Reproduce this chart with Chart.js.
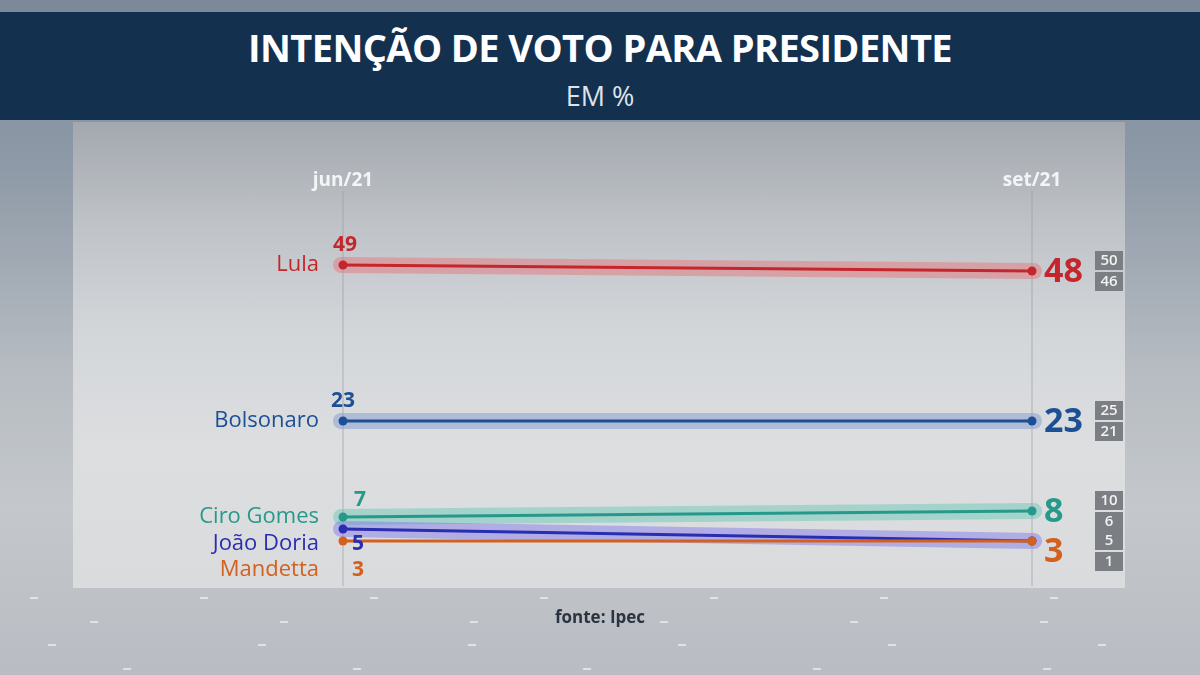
<!DOCTYPE html>
<html>
<head>
<meta charset="utf-8">
<script src="https://cdn.jsdelivr.net/npm/chart.js@4.4.1/dist/chart.umd.min.js"></script>
<style>
  html, body { margin: 0; padding: 0; }
  body {
    width: 1200px; height: 675px; overflow: hidden; position: relative;
    background: linear-gradient(to bottom, #7b8999 0%, #8e9aa7 25%, #b7bcc2 55%, #c4c8cc 75%, #b9bdc3 100%);
    font-family: "Open Sans", "Noto Sans", sans-serif;
  }
  #titlebar {
    position: absolute; left: 0; top: 12px; width: 1200px; height: 108px;
    background: #14304f; text-align: center; color: #fff;
  }
  #titlebar h1 {
    margin: 0; padding-top: 15px; font-size: 38px; font-weight: 700; line-height: 40px;
    font-family: "Open Sans", sans-serif; letter-spacing: -0.6px;
  }
  #titlebar h2 {
    margin: 0; padding-top: 14px; font-size: 27px; font-weight: 400; line-height: 30px; color: #dfe4ea;
  }
  #panel {
    position: absolute; left: 73px; top: 122px; width: 1052px; height: 466px;
    background: linear-gradient(to bottom, #a3a8ae 0%, #bfc3c8 22%, #d3d6d9 45%, #dcdee0 70%, #d9dbdd 100%);
  }
  #fonte {
    position: absolute; left: 0; width: 1200px; top: 605px; text-align: center; z-index: 2;
    font-size: 17px; font-weight: 700; color: #2b3440;
  }
  .dash { position: absolute; width: 8px; height: 2px; background: rgba(255,255,255,0.55); }
  #chart-wrap { position: absolute; left: 0; top: 0; width: 1200px; height: 675px; }
</style>
</head>
<body>
<div id="titlebar">
  <h1>INTENÇÃO DE VOTO PARA PRESIDENTE</h1>
  <h2>EM %</h2>
</div>
<div id="panel"></div>
<div id="fonte">fonte: Ipec</div>
<div id="chart-wrap"><canvas id="vote-chart" width="1200" height="675"></canvas></div>

<script>
// survey dates (x categories)
const periods = ["jun/21", "set/21"];

// candidates and their values (%)
const candidates = ["Lula", "Bolsonaro", "Ciro Gomes", "João Doria", "Mandetta"];
const lulaValues = [49, 48];
const bolsonaroValues = [23, 23];
const ciroValues = [7, 8];
const doriaValues = [5, 3];
const mandettaValues = [3, 3];

// margin of error shown in the little grey boxes on the right
const marginHigh = [50, 25, 10, 5];
const marginLow = [46, 21, 6, 1];

// colours
const lineColors = ["#c4262b", "#1c4f94", "#27998a", "#2a2db0", "#d3601e"];
const glowColors = ["rgba(232,110,115,0.45)", "rgba(110,140,205,0.40)", "rgba(95,200,180,0.45)", "rgba(125,115,235,0.45)", null];

const allValues = [lulaValues, bolsonaroValues, ciroValues, doriaValues, mandettaValues];

// label tweaks (so the bottom three don't sit on top of each other)
const nameDy = [0, 0, 0, 15, 29];
const startDx = [2, 0, 17, 15, 15];
const startDy = [-20, -20, -17, 15, 29];
const endLabelFor = [0, 1, 2, 4]; // Doria & Mandetta share the "3"
const endDy = [0, 0, 0, 10];

// little white dashes on the floor under the panel (just decoration)
const floorRows = [[597, 30, 170], [621, 90, 190], [644, 48, 210], [668, 123, 230]];
for (let r = 0; r < floorRows.length; r++) {
    for (let dx = floorRows[r][1]; dx < 1200; dx += floorRows[r][2]) {
        const d = document.createElement("div");
        d.className = "dash";
        d.style.left = dx + "px";
        d.style.top = floorRows[r][0] + "px";
        document.body.insertBefore(d, document.getElementById("chart-wrap"));
    }
}

const datasets = [];
for (let i = 0; i < candidates.length; i++) {
    datasets.push({
        label: candidates[i],
        data: allValues[i],
        borderColor: lineColors[i],
        backgroundColor: lineColors[i],
        borderWidth: 3,
        pointRadius: 4.5,
        pointBorderWidth: 0,
        tension: 0,
        clip: false,
        order: candidates.length - 1 - i // Mandetta ends up on top
    });
}

// draws the soft wide band behind every line
const glowPlugin = {
    id: "glow",
    beforeDatasetsDraw(chart) {
        const ctx = chart.ctx;
        ctx.save();
        ctx.lineCap = "round";
        for (let i = 0; i < chart.data.datasets.length; i++) {
            if (!glowColors[i]) continue;
            const pts = chart.getDatasetMeta(i).data;
            ctx.strokeStyle = glowColors[i];
            ctx.lineWidth = 16;
            ctx.beginPath();
            ctx.moveTo(pts[0].x - 2, pts[0].y);
            ctx.lineTo(pts[1].x + 2, pts[1].y);
            ctx.stroke();
        }
        ctx.restore();
    }
};

// vertical guides, period labels, names, values and margin boxes
const labelsPlugin = {
    id: "labels",
    beforeDatasetsDraw(chart) {
        const ctx = chart.ctx;
        const x = chart.scales.x;
        const area = chart.chartArea;
        ctx.save();
        ctx.strokeStyle = "rgba(150,156,166,0.45)";
        ctx.lineWidth = 1.5;
        for (let p = 0; p < periods.length; p++) {
            const px = x.getPixelForValue(p);
            ctx.beginPath();
            ctx.moveTo(px, area.top - 8);
            ctx.lineTo(px, 586);
            ctx.stroke();
        }
        ctx.restore();
    },
    afterDatasetsDraw(chart) {
        const ctx = chart.ctx;
        const x = chart.scales.x;
        const y = chart.scales.y;
        ctx.save();

        // period labels
        ctx.fillStyle = "#f4f5f7";
        ctx.font = "700 19px 'Open Sans'";
        ctx.textAlign = "center";
        ctx.textBaseline = "middle";
        for (let p = 0; p < periods.length; p++) {
            ctx.fillText(periods[p], x.getPixelForValue(p), 181);
        }

        const x0 = x.getPixelForValue(0);
        const x1 = x.getPixelForValue(1);

        for (let i = 0; i < candidates.length; i++) {
            const y0 = y.getPixelForValue(allValues[i][0]);
            // names
            ctx.fillStyle = lineColors[i];
            ctx.font = "400 22px 'Open Sans'";
            ctx.textAlign = "right";
            ctx.fillText(candidates[i], x0 - 24, y0 + nameDy[i]);
            // first value
            ctx.font = "700 21px 'Open Sans'";
            ctx.textAlign = "center";
            ctx.fillText(String(allValues[i][0]), x0 + startDx[i], y0 + startDy[i]);
        }

        // last values + margin boxes
        for (let k = 0; k < endLabelFor.length; k++) {
            const i = endLabelFor[k];
            const v = allValues[i][1];
            const yy = y.getPixelForValue(v) + endDy[k];
            ctx.fillStyle = lineColors[i];
            ctx.font = "700 34px 'Open Sans'";
            ctx.textAlign = "left";
            ctx.fillText(String(v), x1 + 12, yy + 1);

            ctx.fillStyle = "#7b7e82";
            ctx.fillRect(1095, yy - 20, 28, 19);
            ctx.fillRect(1095, yy + 1, 28, 19);
            ctx.fillStyle = "#f2f2f2";
            ctx.font = "600 15px 'Open Sans'";
            ctx.textAlign = "center";
            ctx.fillText(String(marginHigh[k]), 1109, yy - 10);
            ctx.fillText(String(marginLow[k]), 1109, yy + 11);
        }
        ctx.restore();
    }
};

const chartCanvas = document.getElementById("vote-chart");

let voteChart = new Chart(chartCanvas, {
    type: "line",
    data: {
        labels: periods,
        datasets: datasets
    },
    options: {
        responsive: false,
        animation: false,
        layout: {
            padding: { left: 343, right: 168, top: 199, bottom: 116 }
        },
        plugins: {
            legend: { display: false },
            tooltip: { enabled: false }
        },
        scales: {
            x: { type: "category", display: false, offset: false },
            y: { type: "linear", display: false, min: 0, max: 60 }
        }
    },
    plugins: [glowPlugin, labelsPlugin]
});
</script>
</body>
</html>
